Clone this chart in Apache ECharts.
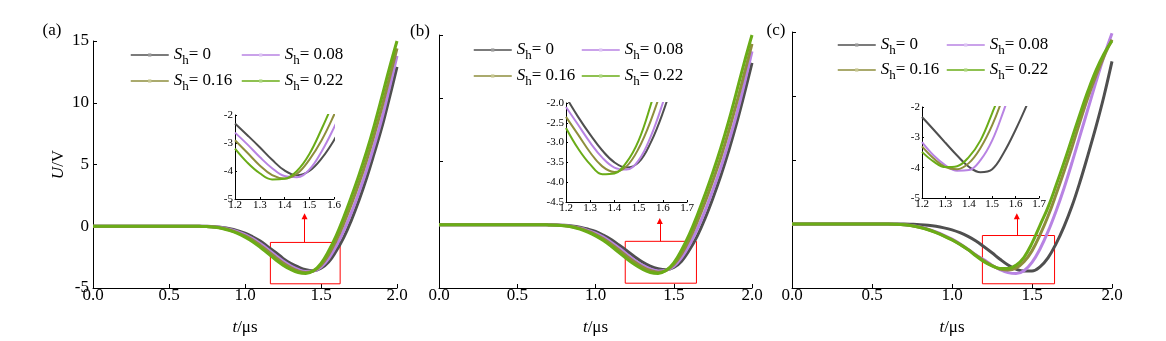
<!DOCTYPE html>
<html>
<head>
<meta charset="utf-8">
<script src="https://cdn.jsdelivr.net/npm/echarts@6/dist/echarts.min.js"></script>
<style>
  html, body { margin: 0; padding: 0; background: #fff; }
  #chart { width: 1166px; height: 341px; }
</style>
</head>
<body>
<div id="chart"></div>
<script>
// ---- sample times (μs) ----
const tMain = [0, 0.1, 0.2, 0.3, 0.4, 0.5, 0.6, 0.65, 0.7, 0.75, 0.8, 0.85, 0.9, 0.95, 1.0,
  1.05, 1.1, 1.15, 1.2, 1.25, 1.3, 1.35, 1.4, 1.45, 1.5, 1.55, 1.6, 1.65, 1.7, 1.75,
  1.8, 1.85, 1.9, 1.95, 2.0];
const tInset = [1.2, 1.25, 1.3, 1.35, 1.4, 1.45, 1.5, 1.55, 1.6, 1.65];

// ---- legend / panel text ----
const shLabels = ['0', '0.08', '0.16', '0.22'];
const panelTags = ['(a)', '(b)', '(c)'];

// ---- panel (a): U (V) ----
const a_sh0   = [0, 0, 0, 0, 0, 0, 0, 0, 0, -0.01, -0.04, -0.1, -0.2, -0.35, -0.55, -0.85, -1.2, -1.65, -2.1, -2.6, -3.0, -3.3, -3.52, -3.6, -3.4, -2.9, -2.0, -0.9, 0.5, 2.1, 3.9, 5.9, 8.0, 10.4, 12.9];
const a_sh008 = [0, 0, 0, 0, 0, 0, 0, 0, 0, -0.02, -0.06, -0.13, -0.26, -0.44, -0.68, -1.0, -1.4, -1.85, -2.35, -2.82, -3.2, -3.5, -3.66, -3.62, -3.3, -2.62, -1.6, -0.35, 1.1, 2.75, 4.55, 6.55, 8.7, 11.2, 13.8];
const a_sh016 = [0, 0, 0, 0, 0, 0, 0, 0, -0.01, -0.02, -0.07, -0.16, -0.3, -0.51, -0.78, -1.12, -1.55, -2.02, -2.5, -2.97, -3.35, -3.62, -3.74, -3.62, -3.15, -2.3, -1.15, 0.25, 1.8, 3.5, 5.35, 7.4, 9.6, 12.0, 14.4];
const a_sh022 = [0, 0, 0, 0, 0, 0, 0, 0, -0.01, -0.03, -0.08, -0.18, -0.35, -0.58, -0.88, -1.25, -1.7, -2.2, -2.7, -3.15, -3.5, -3.75, -3.82, -3.6, -3.0, -2.0, -0.75, 0.75, 2.4, 4.15, 6.05, 8.15, 10.45, 12.8, 15.0];

// ---- panel (b): U (V) ----
const b_sh0   = [0, 0, 0, 0, 0, 0, 0, 0, 0, -0.01, -0.04, -0.1, -0.2, -0.34, -0.53, -0.82, -1.17, -1.6, -2.05, -2.53, -2.95, -3.27, -3.47, -3.55, -3.38, -2.88, -2.0, -0.9, 0.5, 2.1, 3.85, 5.8, 7.95, 10.3, 12.8];
const b_sh008 = [0, 0, 0, 0, 0, 0, 0, 0, 0, -0.02, -0.06, -0.13, -0.26, -0.44, -0.67, -0.98, -1.38, -1.83, -2.32, -2.8, -3.2, -3.5, -3.65, -3.6, -3.28, -2.6, -1.6, -0.35, 1.1, 2.75, 4.5, 6.5, 8.65, 11.1, 13.7];
const b_sh016 = [0, 0, 0, 0, 0, 0, 0, 0, -0.01, -0.02, -0.07, -0.16, -0.3, -0.5, -0.77, -1.11, -1.53, -2.0, -2.48, -2.95, -3.34, -3.62, -3.75, -3.63, -3.15, -2.3, -1.15, 0.25, 1.8, 3.5, 5.3, 7.35, 9.55, 11.9, 14.3];
const b_sh022 = [0, 0, 0, 0, 0, 0, 0, 0, -0.01, -0.03, -0.08, -0.18, -0.35, -0.58, -0.88, -1.25, -1.7, -2.2, -2.7, -3.15, -3.52, -3.78, -3.85, -3.62, -3.02, -2.0, -0.75, 0.75, 2.4, 4.15, 6.05, 8.15, 10.45, 12.8, 15.0];

// ---- panel (c): U (V) ----
const c_sh0   = [0, 0, 0, 0, 0, 0, 0, 0, 0, -0.02, -0.05, -0.1, -0.18, -0.3, -0.46, -0.68, -0.97, -1.33, -1.78, -2.25, -2.75, -3.2, -3.52, -3.68, -3.68, -3.35, -2.65, -1.55, -0.2, 1.4, 3.3, 5.4, 7.6, 10.0, 12.7];
const c_sh008 = [0, 0, 0, 0, 0, 0, 0, -0.02, -0.05, -0.12, -0.24, -0.4, -0.62, -0.88, -1.18, -1.55, -1.98, -2.42, -2.8, -3.22, -3.56, -3.8, -3.87, -3.65, -3.0, -1.95, -0.6, 1.0, 2.8, 4.8, 6.9, 9.0, 11.1, 13.1, 14.9];
const c_sh016 = [0, 0, 0, 0, 0, 0, 0, -0.02, -0.06, -0.13, -0.26, -0.43, -0.66, -0.92, -1.22, -1.58, -2.0, -2.44, -2.88, -3.25, -3.52, -3.6, -3.45, -2.95, -2.1, -0.85, 0.6, 2.3, 4.1, 6.0, 8.0, 9.9, 11.6, 13.1, 14.4];
const c_sh022 = [0, 0, 0, 0, 0, 0, 0, -0.02, -0.06, -0.14, -0.27, -0.45, -0.68, -0.95, -1.25, -1.6, -2.0, -2.5, -2.95, -3.28, -3.47, -3.48, -3.22, -2.6, -1.5, -0.1, 1.3, 3.0, 4.8, 6.7, 8.6, 10.4, 12.0, 13.3, 14.3];

// ---- zoomed minima (insets) ----
const ia_sh0   = [-2.3, -2.72, -3.15, -3.6, -3.98, -4.15, -4.0, -3.55, -2.9, -2.1];
const ia_sh008 = [-2.63, -3.05, -3.5, -3.9, -4.18, -4.22, -3.95, -3.3, -2.45, -1.5];
const ia_sh016 = [-2.9, -3.35, -3.8, -4.15, -4.27, -4.1, -3.6, -2.9, -2.0, -1.0];
const ia_sh022 = [-3.2, -3.7, -4.08, -4.3, -4.28, -4.0, -3.4, -2.5, -1.5, -0.5];

const ib_sh0   = [-1.85, -2.35, -2.8, -3.2, -3.5, -3.63, -3.5, -3.0, -2.25, -1.3];
const ib_sh008 = [-2.1, -2.55, -3.0, -3.38, -3.63, -3.68, -3.45, -2.85, -2.0, -1.0];
const ib_sh016 = [-2.35, -2.8, -3.25, -3.6, -3.74, -3.6, -3.15, -2.45, -1.55, -0.5];
const ib_sh022 = [-2.63, -3.15, -3.55, -3.8, -3.78, -3.5, -2.95, -2.05, -1.0, 0.1];

const ic_sh0   = [-2.33, -2.75, -3.18, -3.6, -3.97, -4.15, -4.05, -3.5, -2.75, -1.9];
const ic_sh008 = [-3.16, -3.6, -3.92, -4.1, -4.08, -3.75, -3.1, -2.1, -1.0, 0.2];
const ic_sh016 = [-3.3, -3.7, -3.98, -4.05, -3.85, -3.35, -2.6, -1.6, -0.5, 0.6];
const ic_sh022 = [-3.48, -3.8, -3.98, -3.95, -3.65, -3.1, -2.2, -1.2, 0.0, 1.2];

// ---- zoom windows [tStart, tEnd, Utop, Ubottom] and arrows [t, Ufrom, Uto] ----
const zoomBoxes = [[1.167, 1.626, -1.31, -4.66], [1.19, 1.645, -1.31, -4.62], [1.19, 1.641, -0.9, -4.67]];
const zoomArrows = [[1.392, -1.31, 0.8], [1.411, -1.31, 0.3], [1.405, -0.9, 0.6]];

// ---- inset axis ranges [min, max, step] ----
const insetX = [[1.2, 1.6, 0.1], [1.2, 1.7, 0.1], [1.2, 1.7, 0.1]];
const insetY = [[-5, -2, 1], [-4.5, -2.0, 0.5], [-5, -2, 1]];

// ---------------------------------------------------------------
const mainData = [[a_sh0, a_sh008, a_sh016, a_sh022], [b_sh0, b_sh008, b_sh016, b_sh022], [c_sh0, c_sh008, c_sh016, c_sh022]];
const insetData = [[ia_sh0, ia_sh008, ia_sh016, ia_sh022], [ib_sh0, ib_sh008, ib_sh016, ib_sh022], [ic_sh0, ic_sh008, ic_sh016, ic_sh022]];

const FONT = "'Liberation Serif', 'Times New Roman', serif";
const colors = ['#4f4f4f', '#b883e3', '#8e8e3c', '#6aac17'];
const dotColors = ['#9a9a9a', '#dcc4f3', '#c6c690', '#acd67e'];

const mainGrids = [
  { left: 93, top: 41, width: 304, height: 248 },
  { left: 439, top: 35, width: 313, height: 254 },
  { left: 792, top: 32, width: 320, height: 258 }
];
const insetGrids = [
  { left: 235, top: 115, width: 99, height: 84 },
  { left: 566, top: 103, width: 121, height: 99 },
  { left: 922, top: 107, width: 117, height: 91 }
];
// legend anchors per panel: [col1 x, col2 x, row1 y, row2 y]
const legendSpots = [[130, 241, 59, 85], [473, 581, 54, 80], [837, 946, 49, 74]];
const tagSpots = [[52, 31], [420, 32], [776, 31]];

const seriesName = k => 'Sh=' + shLabels[k];
const axisBlack = { onZero: false, lineStyle: { color: '#000', width: 1 } };
const richLegend = {
  s: { fontFamily: FONT, fontStyle: 'italic', fontSize: 17, lineHeight: 25, verticalAlign: 'middle', color: '#000' },
  h: { fontFamily: FONT, fontSize: 13, lineHeight: 25, verticalAlign: 'bottom', color: '#000' },
  n: { fontFamily: FONT, fontSize: 17, lineHeight: 25, verticalAlign: 'middle', color: '#000' }
};

const grid = [], xAxis = [], yAxis = [], series = [], legend = [], graphic = [];

for (let p = 0; p < 3; p++) {
  grid.push(Object.assign({ containLabel: false }, mainGrids[p]));
  xAxis.push({
    type: 'value', gridIndex: p, min: 0, max: 2, interval: 0.5,
    axisLine: axisBlack, splitLine: { show: false },
    axisTick: { inside: true, length: 4, lineStyle: { color: '#000' } },
    axisLabel: { color: '#000', fontFamily: FONT, fontSize: 17, margin: -1, formatter: v => v.toFixed(1) },
    name: '{i|t}/μs', nameLocation: 'middle', nameGap: 31,
    nameTextStyle: { color: '#000', fontFamily: FONT, fontSize: 17,
      rich: { i: { fontFamily: FONT, fontSize: 17, fontStyle: 'italic', color: '#000' } } }
  });
  yAxis.push({
    type: 'value', gridIndex: p, min: -5, max: 15, interval: 5,
    axisLine: axisBlack, splitLine: { show: false },
    axisTick: { inside: true, length: 4, lineStyle: { color: '#000' } },
    axisLabel: { show: p === 0, color: '#000', fontFamily: FONT, fontSize: 17, margin: 4 },
    name: p === 0 ? '{i|U}/V' : '', nameLocation: 'middle', nameGap: 26,
    nameTextStyle: { color: '#000', fontFamily: FONT, fontSize: 17,
      rich: { i: { fontFamily: FONT, fontSize: 17, fontStyle: 'italic', color: '#000' } } }
  });
}
for (let p = 0; p < 3; p++) {
  grid.push(Object.assign({ containLabel: false }, insetGrids[p]));
  const [x0, x1, dx] = insetX[p];
  const [y0, y1, dy] = insetY[p];
  xAxis.push({
    type: 'value', gridIndex: 3 + p, min: x0, max: x1, interval: dx,
    axisLine: axisBlack, splitLine: { show: false },
    axisTick: { inside: true, length: 2, lineStyle: { color: '#000' } },
    axisLabel: { color: '#000', fontFamily: FONT, fontSize: 11, margin: 1, formatter: v => v.toFixed(1) }
  });
  yAxis.push({
    type: 'value', gridIndex: 3 + p, min: y0, max: y1, interval: dy,
    axisLine: axisBlack, splitLine: { show: false },
    axisTick: { inside: true, length: 2, lineStyle: { color: '#000' } },
    axisLabel: { color: '#000', fontFamily: FONT, fontSize: 11, margin: 2,
      formatter: v => (dy < 1 ? v.toFixed(1) : String(Math.round(v))) }
  });
}

for (let p = 0; p < 3; p++) {
  for (let k = 0; k < 4; k++) {
    const s = {
      type: 'line', name: seriesName(k), xAxisIndex: p, yAxisIndex: p,
      data: tMain.map((t, i) => [t, mainData[p][k][i]]),
      smooth: 0.4, showSymbol: false, symbol: 'rect', symbolSize: 3,
      lineStyle: { color: colors[k], width: 3 }, itemStyle: { color: colors[k] },
      silent: true, z: 2
    };
    if (k === 3) {
      const [t0, t1, u0, u1] = zoomBoxes[p];
      const [ta, ua, ub] = zoomArrows[p];
      s.markArea = {
        silent: true,
        itemStyle: { color: 'rgba(0,0,0,0)', borderColor: '#ff0000', borderWidth: 1 },
        label: { show: false },
        data: [[{ coord: [t0, u0] }, { coord: [t1, u1] }]]
      };
      s.markLine = {
        silent: true, symbol: ['none', 'triangle'], symbolSize: 6,
        lineStyle: { color: '#ff0000', width: 1, type: 'solid' },
        label: { show: false },
        data: [[{ coord: [ta, ua] }, { coord: [ta, ub] }]]
      };
    }
    series.push(s);
  }
  for (let k = 0; k < 4; k++) {
    series.push({
      type: 'line', name: seriesName(k), xAxisIndex: 3 + p, yAxisIndex: 3 + p,
      data: tInset.map((t, i) => [t, insetData[p][k][i]]),
      smooth: 0.4, showSymbol: false, symbol: 'rect', symbolSize: 3,
      lineStyle: { color: colors[k], width: 2 }, itemStyle: { color: colors[k] },
      silent: true, z: 3
    });
  }
  const [cx1, cx2, ry1, ry2] = legendSpots[p];
  const spots = [[cx1, ry1], [cx2, ry1], [cx1, ry2], [cx2, ry2]];
  for (let k = 0; k < 4; k++) {
    legend.push({
      data: [seriesName(k)], left: spots[k][0], top: spots[k][1] - 12.5,
      padding: 0, itemGap: 0, itemWidth: 38, itemHeight: 4, selectedMode: false,
      lineStyle: { width: 1.5 }, itemStyle: { color: dotColors[k] },
      formatter: () => '{s|S}{h|h}{n|= ' + shLabels[k] + '}',
      textStyle: { rich: richLegend }
    });
  }
  graphic.push({
    type: 'text', x: tagSpots[p][0], y: tagSpots[p][1],
    style: { text: panelTags[p], fill: '#000', font: '17px ' + FONT, align: 'center', verticalAlign: 'middle' }
  });
}

const chart = echarts.init(document.getElementById('chart'), null, { renderer: 'canvas' });
chart.setOption({
  backgroundColor: '#fff',
  animation: false,
  tooltip: { show: false },
  grid, xAxis, yAxis, series, legend, graphic
});
</script>
</body>
</html>
